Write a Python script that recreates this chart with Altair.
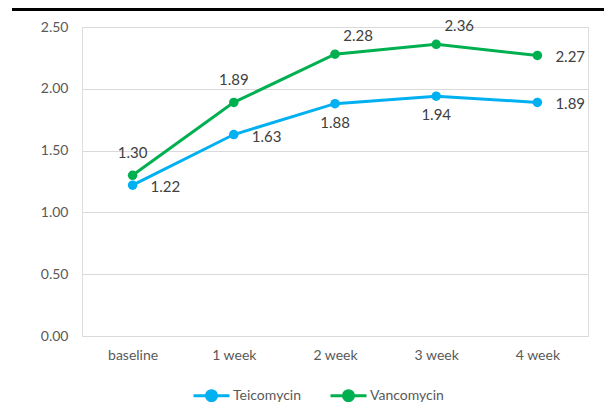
import altair as alt
import pandas as pd

categories = ["baseline", "1 week", "2 week", "3 week", "4 week"]
teicomycin = [1.22, 1.63, 1.88, 1.94, 1.89]
vancomycin = [1.30, 1.89, 2.28, 2.36, 2.27]
teico_label_pos = ["right", "right", "below", "below", "right"]
vanco_label_pos = ["above", "above", "aboveright", "aboveright", "right"]
series_names = ["Teicomycin", "Vancomycin"]
series_colors = ["#00B0F0", "#00B050"]

rows = []
for c, v, p in zip(categories, teicomycin, teico_label_pos):
    rows.append({"cat": c, "value": v, "series": "Teicomycin", "pos": p})
for c, v, p in zip(categories, vancomycin, vanco_label_pos):
    rows.append({"cat": c, "value": v, "series": "Vancomycin", "pos": p})
df = pd.DataFrame(rows)

FONT = "Lato"
x = alt.X("cat:N", sort=categories, title=None,
          scale=alt.Scale(paddingInner=0, paddingOuter=0.5),
          axis=alt.Axis(labelAngle=0, domain=False, ticks=False, labelPadding=12,
                        labelFontSize=14, labelColor="#595959", labelFont=FONT, grid=False))
y = alt.Y("value:Q", title=None,
          scale=alt.Scale(domain=[0, 2.5], nice=False),
          axis=alt.Axis(values=[0, 0.5, 1.0, 1.5, 2.0, 2.5], format=".2f", domain=False,
                        ticks=False, labelPadding=14, labelFontSize=14, labelColor="#595959",
                        labelFont=FONT, gridColor="#D9D9D9", gridWidth=1))
color = alt.Color("series:N", scale=alt.Scale(domain=series_names, range=series_colors),
                  legend=alt.Legend(orient="none", legendX=110, legendY=349, title=None,
                                    direction="horizontal",
                                    symbolType="M-1,0L1,0M-0.28,0A0.28,0.28 0 1,1 0.28,0A0.28,0.28 0 1,1 -0.28,0Z",
                                    symbolSize=1296, symbolStrokeWidth=3, labelFontSize=14,
                                    labelColor="#595959", labelFont=FONT, columnPadding=22,
                                    labelOffset=2))

base = alt.Chart(df)
lines = base.mark_line(strokeWidth=3).encode(x=x, y=y, color=color)
points = base.mark_point(filled=True, size=90, opacity=1).encode(x=x, y=y, color=alt.Color("series:N", scale=alt.Scale(domain=series_names, range=series_colors), legend=None))

def labels(pos, dx, dy, align="center", baseline="middle"):
    return base.transform_filter(alt.datum.pos == pos).mark_text(
        dx=dx, dy=dy, align=align, baseline=baseline, fontSize=15, font=FONT, color="#404040"
    ).encode(x=x, y=y, text=alt.Text("value:Q", format=".2f"))

top_rule = alt.Chart(df).mark_rule(color="black", strokeWidth=3).encode(
    x=alt.value(-70), x2=alt.value(530), y=alt.value(-18))

chart = alt.layer(
    lines, points,
    labels("above", 0, -22),
    labels("aboveright", 23, -18),
    labels("right", 18, 2, align="left"),
    labels("below", 0, 19),
    top_rule,
).properties(
    width=506, height=309,
    autosize=alt.AutoSizeParams(type="none"),
    padding={"left": 74, "top": 19, "right": 16, "bottom": 66},
).configure_view(stroke=None).configure(font=FONT)

chart.save("out.html", embed_options={"renderer": "svg", "actions": False})
